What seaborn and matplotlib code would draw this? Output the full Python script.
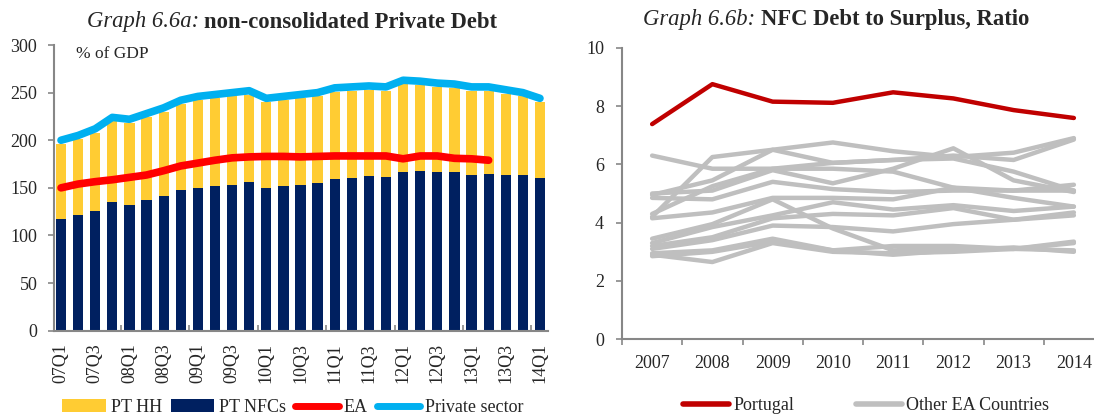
import numpy as np
import pandas as pd
import matplotlib
matplotlib.use("Agg")
import matplotlib.pyplot as plt
import seaborn as sns
from matplotlib.patches import Patch
from matplotlib.lines import Line2D
from matplotlib.ticker import FixedLocator

# ---------------- data ----------------
quarters = ["07Q1", "07Q2", "07Q3", "07Q4", "08Q1", "08Q2", "08Q3", "08Q4",
            "09Q1", "09Q2", "09Q3", "09Q4", "10Q1", "10Q2", "10Q3", "10Q4",
            "11Q1", "11Q2", "11Q3", "11Q4", "12Q1", "12Q2", "12Q3", "12Q4",
            "13Q1", "13Q2", "13Q3", "13Q4", "14Q1"]
pt_nfc = [117, 122, 126, 135, 132, 137, 141, 148, 150, 152, 153, 156, 150, 152, 153,
          155, 159, 160, 162, 161, 167, 168, 167, 167, 164, 165, 164, 163, 160]
pt_hh = [79, 79, 82, 85, 86, 87, 89, 90, 92, 92, 93, 92, 90, 90, 91,
         91, 92, 92, 91, 91, 92, 90, 89, 88, 88, 87, 85, 83, 80]
private_sector = [200, 205, 212, 224, 222, 228, 234, 242, 246, 248, 250, 252, 244, 246, 248,
                  250, 255, 256, 257, 256, 263, 262, 260, 259, 256, 256, 253, 250, 244]
ea = [150, 154, 156.5, 158.5, 161, 163.5, 168, 173, 176, 179, 181.5, 182.5, 183, 183, 182.5,
      183, 183.5, 183.5, 183.5, 183.5, 180.5, 183.5, 183.5, 181, 180.5, 179]

years = ["2007", "2008", "2009", "2010", "2011", "2012", "2013", "2014"]
portugal = [7.38, 8.75, 8.15, 8.11, 8.47, 8.26, 7.86, 7.59]
other_ea = [
    [6.30, 5.85, 5.85, 5.85, 5.75, 5.20, 4.85, 4.55],
    [4.20, 6.25, 6.50, 6.75, 6.45, 6.25, 6.40, 6.90],
    [4.95, 5.45, 6.50, 6.05, 6.15, 6.30, 6.15, 6.85],
    [5.00, 5.10, 5.80, 5.35, 5.85, 6.55, 5.45, 5.05],
    [4.85, 4.80, 5.40, 5.15, 5.05, 5.10, 5.10, 5.30],
    [4.30, 5.25, 5.85, 6.05, 6.15, 6.20, 5.75, 5.10],
    [4.15, 4.35, 4.85, 4.85, 4.80, 5.20, 5.10, 5.10],
    [3.45, 3.95, 4.80, 3.80, 3.05, 3.10, 3.10, 3.30],
    [3.30, 3.85, 4.25, 4.70, 4.45, 4.60, 4.40, 4.55],
    [3.20, 3.50, 4.15, 4.30, 4.25, 4.50, 4.10, 4.25],
    [3.10, 3.40, 3.90, 3.85, 3.70, 3.95, 4.10, 4.35],
    [2.95, 3.05, 3.45, 3.05, 3.20, 3.20, 3.10, 3.35],
    [2.90, 2.65, 3.30, 3.00, 2.95, 3.00, 3.10, 3.05],
    [2.85, 3.00, 3.35, 3.05, 2.90, 3.05, 3.15, 3.00],
]

# ---------------- style ----------------
sns.set_style("ticks")
plt.rcParams["font.family"] = ["Liberation Serif", "DejaVu Serif"]

YELLOW = "#FFCC33"
NAVY = "#002060"
RED = "#FF0000"
BLUE = "#00B0F0"
DARKRED = "#C00000"
GREY = "#BFBFBF"
AXGREY = "#878787"
FS = 13

W, H = 1094, 418
fig = plt.figure(figsize=(W / 100, H / 100), dpi=100)

def px_axes(x0, y_top, x1, y_bot):
    return fig.add_axes([x0 / W, 1 - y_bot / H, (x1 - x0) / W, (y_bot - y_top) / H])

# ---------------- left chart ----------------
ax1 = px_axes(54, 45, 548, 330.7)
df1 = pd.DataFrame({"q": quarters, "nfc": pt_nfc, "hh": pt_hh})
df1["total"] = df1["nfc"] + df1["hh"]
sns.barplot(data=df1, x="q", y="total", color=YELLOW, width=0.6, linewidth=0,
            saturation=1, ax=ax1)
sns.barplot(data=df1, x="q", y="nfc", color=NAVY, width=0.6, linewidth=0,
            saturation=1, ax=ax1)
sns.lineplot(x=np.arange(len(ea)), y=ea, color=RED, linewidth=5.5, ax=ax1,
             solid_capstyle="round")
sns.lineplot(x=np.arange(len(private_sector)), y=private_sector, color=BLUE,
             linewidth=5.5, ax=ax1, solid_capstyle="round")
ax1.set_xlim(-0.41, 28.47)
ax1.set_ylim(0, 300)
ax1.set_yticks(np.arange(0, 301, 50))
ax1.set_xticks(np.arange(0, len(quarters), 2))
ax1.set_xticklabels(quarters[::2], rotation=90, ha="center", va="top")
ax1.xaxis.set_minor_locator(FixedLocator(np.arange(3.5, 28.6, 4)))
ax1.tick_params(axis="x", which="major", length=0, pad=9, labelsize=FS)
ax1.tick_params(axis="x", which="minor", direction="in", length=4, width=1.2, color=AXGREY)
ax1.tick_params(axis="y", direction="out", length=4, width=1.2, color=AXGREY, pad=8, labelsize=FS)
ax1.set_xlabel("")
ax1.set_ylabel("")
ax1.text(0.9, 291, "% of GDP", fontsize=12.5, va="center", ha="left")

# ---------------- right chart ----------------
ax2 = px_axes(622, 47.7, 1104, 339.3)
xi = np.arange(len(years))
for vals in other_ea:
    sns.lineplot(x=xi, y=vals, color=GREY, linewidth=3.2, ax=ax2, solid_capstyle="round")
sns.lineplot(x=xi, y=portugal, color=DARKRED, linewidth=3.2, ax=ax2, solid_capstyle="round")
ax2.set_xlim(-0.5, 7.5)
ax2.set_ylim(0, 10)
ax2.set_yticks(np.arange(0, 11, 2))
ax2.set_xticks(xi)
ax2.set_xticklabels(years)
ax2.xaxis.set_minor_locator(FixedLocator(np.arange(-0.5, 7.0, 1)))
ax2.tick_params(axis="x", which="major", length=0, pad=11, labelsize=FS)
ax2.tick_params(axis="x", which="minor", direction="out", length=4, width=1.2, color=AXGREY)
ax2.tick_params(axis="y", direction="out", length=4, width=1.2, color=AXGREY, pad=9, labelsize=FS)
ax2.set_xlabel("")
ax2.set_ylabel("")

for ax in (ax1, ax2):
    sns.despine(ax=ax)
    for s in ("left", "bottom"):
        ax.spines[s].set_color(AXGREY)
        ax.spines[s].set_linewidth(1.5)

# ---------------- legends ----------------
h1 = [Patch(facecolor=YELLOW, edgecolor="none"), Patch(facecolor=NAVY, edgecolor="none"),
      Line2D([], [], color=RED, lw=5, solid_capstyle="round"),
      Line2D([], [], color=BLUE, lw=5, solid_capstyle="round")]
fig.legend(h1, ["PT HH", "PT NFCs", "EA", "Private sector"], loc="center",
           bbox_to_anchor=(293 / W, 1 - 407.5 / H), ncol=4, frameon=False, fontsize=FS,
           handlelength=2.4, handletextpad=0.28, columnspacing=0.5, borderpad=0,
           borderaxespad=0)
h2 = [Line2D([], [], color=DARKRED, lw=4, solid_capstyle="round"),
      Line2D([], [], color=GREY, lw=4, solid_capstyle="round")]
fig.legend(h2, ["Portugal", "Other EA Countries"], loc="center",
           bbox_to_anchor=(866 / W, 1 - 406 / H), ncol=2, frameon=False, fontsize=FS,
           handlelength=2.55, handletextpad=0.25, columnspacing=3.4, borderpad=0,
           borderaxespad=0)

# ---------------- titles (italic + bold parts) ----------------
def two_part_title(xc, yc, italic, bold, size=16.3):
    t1 = fig.text(0, 0, italic, fontsize=size, style="italic", va="center", ha="left")
    t2 = fig.text(0, 0, bold, fontsize=size, weight="bold", va="center", ha="left")
    fig.canvas.draw()
    r = fig.canvas.get_renderer()
    w1 = t1.get_window_extent(r).width
    w2 = t2.get_window_extent(r).width
    gap = 0.25 * size * 100 / 72
    x0 = xc - (w1 + gap + w2) / 2
    t1.set_position((x0 / W, 1 - yc / H))
    t2.set_position(((x0 + w1 + gap) / W, 1 - yc / H))

two_part_title(292, 22, "Graph 6.6a:", "non-consolidated Private Debt")
two_part_title(836, 20, "Graph 6.6b:", "NFC Debt to Surplus, Ratio")

fig.savefig("out.png", dpi=100)
